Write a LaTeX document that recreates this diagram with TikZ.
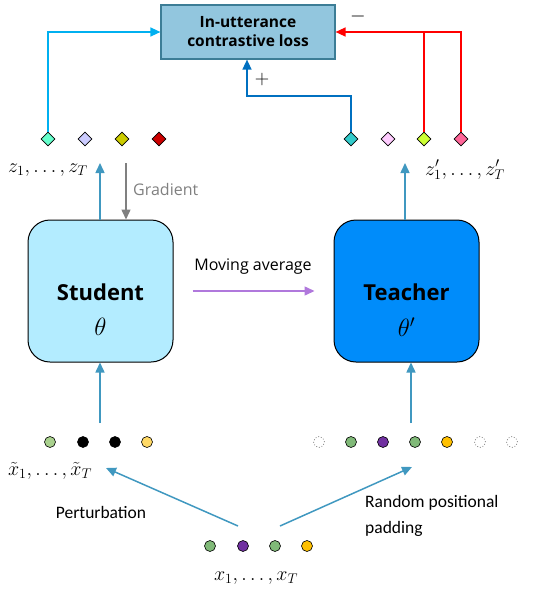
\RequirePackage{fix-cm}
\documentclass[tikz,border=0pt]{standalone}
\usepackage{fontspec}
\setmainfont{Open Sans}
\newfontfamily\calfont{Carlito}
\usetikzlibrary{arrows.meta,shapes.geometric}
\definecolor{lossfill}{RGB}{146,198,222}
\definecolor{lossborder}{RGB}{60,125,150}
\definecolor{cyanline}{RGB}{0,176,240}
\definecolor{plusline}{RGB}{0,112,192}
\definecolor{flowblue}{RGB}{64,152,192}
\definecolor{mavg}{RGB}{176,120,220}
\definecolor{studfill}{RGB}{179,236,255}
\definecolor{teachfill}{RGB}{0,140,250}
\definecolor{dA}{RGB}{102,255,204}
\definecolor{dB}{RGB}{204,204,255}
\definecolor{dC}{RGB}{204,204,0}
\definecolor{dD}{RGB}{204,0,0}
\definecolor{dE}{RGB}{51,204,204}
\definecolor{dF}{RGB}{255,204,255}
\definecolor{dG}{RGB}{204,255,51}
\definecolor{dH}{RGB}{255,102,153}
\definecolor{gl}{RGB}{169,209,142}
\definecolor{gm}{RGB}{128,185,120}
\definecolor{yl}{RGB}{255,217,102}
\definecolor{pu}{RGB}{112,48,160}
\definecolor{orng}{RGB}{255,192,0}
\begin{document}
\begin{tikzpicture}[x=1pt,y=-1pt,
  lossbox/.style={draw=lossborder, fill=lossfill, line width=1.2pt, minimum width=174pt, minimum height=54pt, inner sep=0pt, font=\bfseries\fontsize{15.5}{19}\selectfont, align=center},
  netbox/.style={draw=black, line width=1pt, rounded corners=22pt, minimum width=145pt, minimum height=142pt},
  zd/.style={diamond, draw=black, line width=0.8pt, inner sep=0pt, minimum width=14pt, minimum height=14pt},
  xd/.style={circle, draw=black, line width=0.6pt, inner sep=0pt, minimum size=11pt},
  padd/.style={circle, draw=gray, dotted, line width=0.8pt, fill=white, inner sep=0pt, minimum size=11pt},
  tip/.style={-{Triangle[length=10pt,width=9pt]}},
  flow/.style={tip, line width=1.5pt, draw=flowblue},
  lbl/.style={font=\fontsize{16}{19}\selectfont},
  calt/.style={font=\calfont\fontsize{17.5}{26}\selectfont, align=left},
  mlab/.style={font=\fontsize{20}{22}\selectfont, inner sep=0pt}
]
\useasboundingbox (0,0) rectangle (541,598);

% loss box
\node[lossbox] (loss) at (248,32) {In-utterance\\contrastive loss};

% networks
\node[netbox, fill=studfill] (student) at (100.5,291) {};
\node[netbox, fill=teachfill] (teacher) at (406.5,291) {};
\node[font=\bfseries\fontsize{22}{26}\selectfont] (stext) at (100.5,292) {Student};
\node[font=\fontsize{25}{28}\selectfont] (sth) at (100.5,327) {$\theta$};
\node[font=\bfseries\fontsize{22}{26}\selectfont] (ttext) at (406.5,292) {Teacher};
\node[font=\fontsize{25}{28}\selectfont] (tth) at (406.5,327) {$\theta'$};

% diamonds
\node[zd, fill=dA] (z1) at (48,139) {};
\node[zd, fill=dB] (z2) at (85,139) {};
\node[zd, fill=dC] (z3) at (122,139) {};
\node[zd, fill=dD] (z4) at (159,139) {};
\node[zd, fill=dE] (zp1) at (351,139) {};
\node[zd, fill=dF] (zp2) at (388,139) {};
\node[zd, fill=dG] (zp3) at (424,139) {};
\node[zd, fill=dH] (zp4) at (461,139) {};

\node[mlab] (zlab) at (48,170) {$z_1, \ldots, z_T$};
\node[mlab] (zplab) at (465,170) {$z'_1, \ldots, z'_T$};

% loss connectors
\draw[tip, line width=1.5pt, draw=cyanline] (z1.north) |- (loss.west);
\coordinate (pk) at (247,96);
\draw[tip, line width=1.5pt, draw=plusline] (zp1.north) |- (pk) -- (pk |- loss.south);
\draw[tip, line width=1.5pt, draw=red] (zp4.north) |- (loss.east);
\draw[line width=1.5pt, draw=red] (zp3.north) -- (zp3.north |- loss.east);
\node[font=\fontsize{20}{22}\selectfont] (plus) at (262,79) {$+$};
\node[font=\fontsize{20}{22}\selectfont] (minus) at (358,16) {$-$};

% student/teacher outputs
\coordinate (sout) at (100,163);
\draw[flow] (student.north -| sout) -- (sout);
\coordinate (gsrc) at (126,163);
\draw[tip, line width=1.5pt, draw=gray] (gsrc) -- (gsrc |- student.north);
\node[lbl, text=gray, anchor=west, inner sep=0pt] (grad) at (133,189) {Gradient};
\coordinate (tout) at (405,163);
\draw[flow] (teacher.north -| tout) -- (tout);

% moving average
\draw[tip, line width=1.5pt, draw=mavg, shorten <=19pt, shorten >=19pt] (student.east) -- (teacher.west);
\node[lbl] (mavglab) at (253,267) {Moving average};

% inputs
\node[xd, fill=gl] (s1) at (50,442) {};
\node[xd, fill=black] (s2) at (83,442) {};
\node[xd, fill=black] (s3) at (115,442) {};
\node[xd, fill=yl] (s4) at (147,442) {};

\node[padd] (t1) at (319,442) {};
\node[xd, fill=gm] (t2) at (351,442) {};
\node[xd, fill=pu] (t3) at (383,442) {};
\node[xd, fill=gm] (t4) at (415,442) {};
\node[xd, fill=orng] (t5) at (447,442) {};
\node[padd] (t6) at (480,442) {};
\node[padd] (t7) at (512,442) {};

\node[xd, fill=gm] (x1) at (210,546) {};
\node[xd, fill=pu] (x2) at (243,546) {};
\node[xd, fill=gm] (x3) at (275,546) {};
\node[xd, fill=orng] (x4) at (307,546) {};

\node[mlab] (xtlab) at (50,471) {$\tilde{x}_1, \ldots, \tilde{x}_T$};
\node[mlab] (xlab) at (256,578) {$x_1, \ldots, x_T$};

\coordinate (sin) at (100,423);
\draw[flow] (sin) -- (sin |- student.south);
\coordinate (tin) at (411,423);
\draw[flow] (tin) -- (tin |- teacher.south);

\coordinate (pa) at (238,526);
\coordinate (pb) at (106,468);
\coordinate (ra) at (280,526);
\coordinate (rb) at (412,467);
\draw[flow] (pa) -- (pb);
\draw[flow] (ra) -- (rb);
\node[calt] (pert) at (101,512) {Perturbation};
\node[calt, anchor=west, inner sep=0pt] (rpp) at (365,516) {Random positional\\padding};
\end{tikzpicture}
\end{document}
